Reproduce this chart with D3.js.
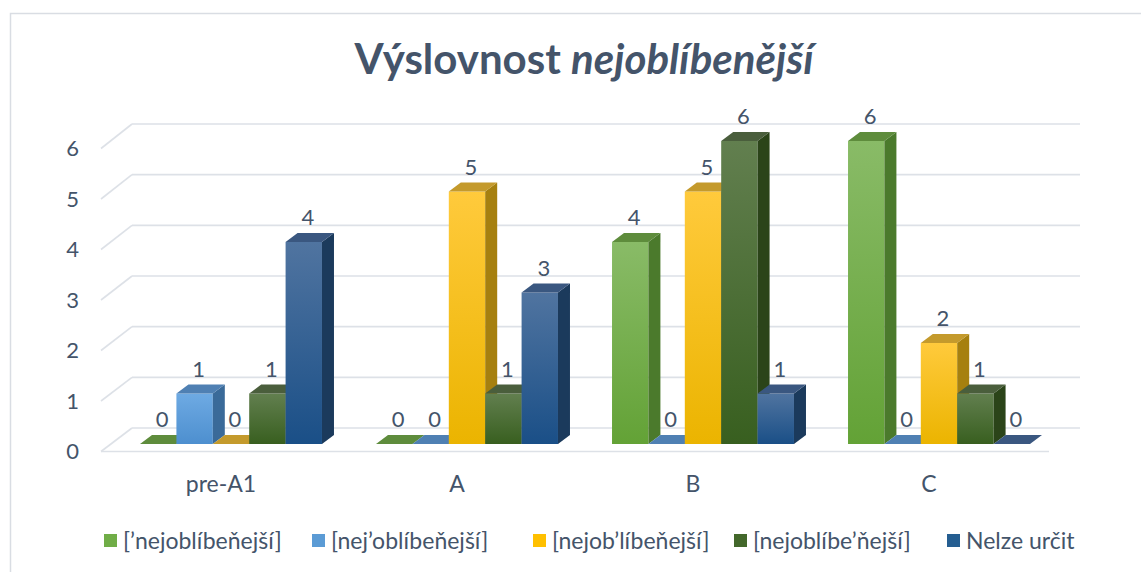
<!DOCTYPE html>
<html>
<head>
<meta charset="utf-8">
<script src="https://cdn.jsdelivr.net/npm/d3@7"></script>
<style>
  body { margin: 0; background: #fff; }
  text { font-family: Lato, "Open Sans", sans-serif; fill: #44546a; }
</style>
</head>
<body>
<div id="chart"></div>
<script>
const width = 1141;
const height = 572;

// data
const categories = ["pre-A1", "A", "B", "C"];
const seriesNames = ["[’nejoblíbeňejší]", "[nej’oblíbeňejší]", "[nejob’líbeňejší]", "[nejoblíbe’ňejší]", "Nelze určit"];
const stressFirst = [0, 0, 4, 6];
const stressSecond = [1, 0, 0, 0];
const stressThird = [0, 5, 5, 2];
const stressFourth = [1, 1, 6, 1];
const undecided = [4, 3, 1, 0];
const yTicks = [0, 1, 2, 3, 4, 5, 6];

const seriesValues = [stressFirst, stressSecond, stressThird, stressFourth, undecided];

// face colours per series: front top, front bottom, side, top
const palette = [
  { light: "#89bb67", dark: "#63a236", side: "#4b7a2c", top: "#5e8c3c", key: "#70ad47" },
  { light: "#6eaae3", dark: "#4d8fcf", side: "#3a6a99", top: "#4f80b3", key: "#5b9bd5" },
  { light: "#ffca3c", dark: "#ebb400", side: "#a6800f", top: "#c49a2c", key: "#ffc000" },
  { light: "#627f4f", dark: "#385f1f", side: "#2b4419", top: "#4a5e3c", key: "#43682b" },
  { light: "#5074a0", dark: "#1a4f87", side: "#1b3a5c", top: "#3a5780", key: "#255e91" }
];

const DX = 12, DY = -9;           // bar depth
const wallLeft = 132, wallRight = 1080;
const floorLeft = 101, floorRight = 1049;

const svg = d3.select("#chart")
  .append("svg")
  .attr("width", width)
  .attr("height", height);

// outer frame
svg.append("rect")
  .attr("x", 10.5).attr("y", 13.5)
  .attr("width", width + 20).attr("height", height + 20)
  .attr("fill", "#fff")
  .attr("stroke", "#d9dde3")
  .attr("stroke-width", 1.5);

// title
const title = svg.append("text")
  .attr("x", 584).attr("y", 74)
  .attr("text-anchor", "middle")
  .style("font-size", "42px")
  .style("font-weight", "bold");
title.append("tspan").text("Výslovnost ");
title.append("tspan").style("font-style", "italic").text("nejoblíbenější");

// scales
const x0 = d3.scaleBand().domain(categories).range([113, 1057]).paddingInner(0.229).paddingOuter(0.1145);
const x1 = d3.scaleBand().domain(d3.range(seriesNames.length)).range([0, x0.bandwidth()]);
const yWall = d3.scaleLinear().domain([0, 6]).range([428, 124]);
const yFront = d3.scaleLinear().domain([0, 6]).range([451.5, 148.5]);
const yBar = d3.scaleLinear().domain([0, 6]).range([444, 141]);

// walls and gridlines
const grid = svg.append("g")
  .attr("stroke", "#dde1e7")
  .attr("stroke-width", 1.6)
  .attr("fill", "none");

grid.selectAll("line.wall")
  .data(yTicks)
  .enter()
  .append("line")
  .attr("x1", wallLeft).attr("x2", wallRight)
  .attr("y1", d => yWall(d)).attr("y2", d => yWall(d));

grid.selectAll("line.side")
  .data(yTicks)
  .enter()
  .append("line")
  .attr("x1", floorLeft).attr("y1", d => yFront(d))
  .attr("x2", wallLeft).attr("y2", d => yWall(d));

grid.append("line")
  .attr("x1", floorLeft).attr("x2", floorRight)
  .attr("y1", yFront(0)).attr("y2", yFront(0));

// gradients
const defs = svg.append("defs");
palette.forEach((p, i) => {
  const g = defs.append("linearGradient")
    .attr("id", "grad" + i)
    .attr("x1", 0).attr("y1", 0).attr("x2", 0).attr("y2", 1);
  g.append("stop").attr("offset", "0%").attr("stop-color", p.light);
  g.append("stop").attr("offset", "100%").attr("stop-color", p.dark);
});

// bars, drawn left to right so each covers the side of the previous one
const bars = [];
categories.forEach((c, ci) => {
  seriesValues.forEach((vals, si) => {
    bars.push({ cat: c, s: si, v: vals[ci] });
  });
});

const barG = svg.append("g");
const bw = x1.bandwidth();

bars.forEach(d => {
  const x = x0(d.cat) + x1(d.s);
  const yt = yBar(d.v);
  const yb = yBar(0);
  const p = palette[d.s];
  const g = barG.append("g");
  if (d.v > 0) {
    g.append("rect")
      .attr("x", x).attr("y", yt)
      .attr("width", bw).attr("height", yb - yt)
      .attr("fill", `url(#grad${d.s})`);
    g.append("path")
      .attr("d", `M${x + bw},${yt}L${x + bw + DX},${yt + DY}L${x + bw + DX},${yb + DY}L${x + bw},${yb}Z`)
      .attr("fill", p.side);
  }
  g.append("path")
    .attr("d", `M${x},${yt}L${x + DX},${yt + DY}L${x + bw + DX},${yt + DY}L${x + bw},${yt}Z`)
    .attr("fill", p.top);
});

// value labels
svg.append("g")
  .selectAll("text")
  .data(bars)
  .enter()
  .append("text")
  .attr("x", d => x0(d.cat) + x1(d.s) + bw / 2 + 4)
  .attr("y", d => yBar(d.v) - 17)
  .attr("text-anchor", "middle")
  .style("font-size", "22px")
  .text(d => d.v);

// y axis labels
const yAxis = svg.append("g")
  .attr("transform", "translate(90,0)")
  .call(d3.axisLeft(yFront).tickValues(yTicks).tickSize(0).tickPadding(11).tickFormat(d3.format("d")));
yAxis.select(".domain").remove();
yAxis.selectAll("text")
  .attr("fill", "#44546a")
  .style("font-size", "22px")
  .style("font-family", "Lato, sans-serif");

// category labels
const xAxis = svg.append("g")
  .attr("transform", "translate(-10,476)")
  .call(d3.axisBottom(x0).tickSize(0).tickPadding(0));
xAxis.select(".domain").remove();
xAxis.selectAll("text")
  .attr("fill", "#44546a")
  .style("font-size", "23px")
  .style("font-family", "Lato, sans-serif");

// legend
const legendX = [104, 312, 533, 734, 947];
const legend = svg.append("g")
  .selectAll("g")
  .data(seriesNames)
  .enter()
  .append("g")
  .attr("transform", (d, i) => `translate(${legendX[i]},534)`);

legend.append("rect")
  .attr("width", 13).attr("height", 13)
  .attr("fill", (d, i) => palette[i].key);

legend.append("text")
  .attr("x", 19).attr("y", 15)
  .style("font-size", "23px")
  .text(d => d);
</script>
</body>
</html>
